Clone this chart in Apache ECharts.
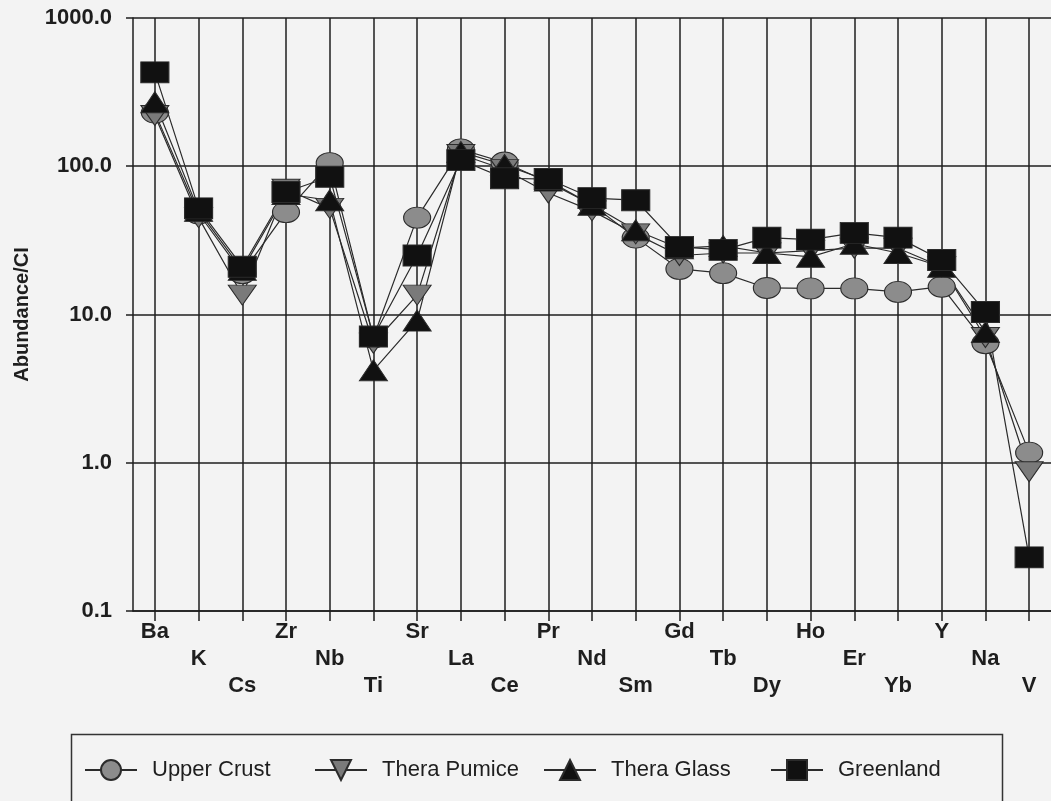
<!DOCTYPE html>
<html>
<head>
<meta charset="utf-8">
<script src="https://cdn.jsdelivr.net/npm/echarts@6/dist/echarts.min.js"></script>
<style>
  html, body { margin: 0; padding: 0; background: #f3f3f3; }
  #chart { width: 1051px; height: 801px; }
</style>
</head>
<body>
<div id="chart"></div>
<script>
// element order on the x axis
const elements = ['Ba', 'K', 'Cs', 'Zr', 'Nb', 'Ti', 'Sr', 'La', 'Ce', 'Pr', 'Nd', 'Sm', 'Gd', 'Tb', 'Dy', 'Ho', 'Er', 'Yb', 'Y', 'Na', 'V']
// abundance / CI
const upperCrust = [230, 48, 19, 49, 105, 7, 45, 130, 106, 78, 55, 33, 20.3, 19, 15.1, 15, 15, 14.2, 15.4, 6.4, 1.17]
const theraPumice = [220, 45, 13.5, 70, 52, 6.4, 13.5, 120, 95, 66, 50, 35, 25, 26, 26, 27, 28, 28, 21, 7, 0.87]
const theraGlass = [270, 50, 20, 65, 59, 4.2, 9.1, 125, 102, 80, 55, 37, 28, 29, 26, 24.5, 30, 26, 21, 7.6, null]
const greenland = [430, 52, 21, 67, 85, 7.1, 25, 110, 83, 82, 61, 59, 28.6, 27.3, 33, 32, 35.5, 33, 23.3, 10.4, 0.23]

const font = '"Liberation Sans", Arial, sans-serif'
const ink = '#1e1e1e'

const chart = echarts.init(document.getElementById('chart'))

function lineSeries (name, data, symbol, size, color, rotate) {
  return {
    name: name,
    type: 'line',
    data: data,
    symbol: symbol,
    symbolSize: size,
    symbolRotate: rotate || 0,
    showAllSymbol: true,
    connectNulls: false,
    lineStyle: { color: '#2b2b2b', width: 1.2 },
    itemStyle: { color: color, borderColor: '#2b2b2b', borderWidth: 1 }
  }
}

// one legend per entry, the gaps in the original are uneven
function legendAt (name, left) {
  return {
    data: [name],
    left: left,
    top: 759,
    padding: 0,
    itemWidth: 52,
    itemHeight: 25,
    textStyle: { fontFamily: font, fontSize: 22, color: ink, padding: [0, 0, 0, 10] }
  }
}

const option = {
  backgroundColor: '#f3f3f3',
  animation: false,
  graphic: [{
    type: 'rect',
    left: 69,
    top: 732,
    shape: { width: 931, height: 100 },
    style: { fill: 'none', stroke: '#333', lineWidth: 1.5 }
  }],
  legend: [
    legendAt('Upper Crust', 84),
    legendAt('Thera Pumice', 314),
    legendAt('Thera Glass', 543),
    legendAt('Greenland', 770)
  ],
  grid: {
    left: 133,
    top: 18,
    width: 920,
    height: 593
  },
  xAxis: {
    type: 'category',
    data: elements,
    boundaryGap: true,
    axisLine: { show: true, lineStyle: { color: ink, width: 1.5 } },
    axisTick: { show: true, alignWithLabel: true, length: 10, lineStyle: { color: ink, width: 1.5 } },
    splitLine: { show: true, alignWithLabel: true, lineStyle: { color: ink, width: 1.5 } },
    axisLabel: {
      interval: 0,
      margin: 7,
      fontFamily: font,
      fontSize: 22,
      fontWeight: 'bold',
      color: ink,
      lineHeight: 27,
      formatter: (v, i) => '\n'.repeat(i % 3) + v // three staggered rows
    }
  },
  yAxis: {
    type: 'log',
    logBase: 10,
    min: 0.1,
    max: 1000,
    name: 'Abundance/CI',
    nameLocation: 'middle',
    nameGap: 101,
    nameTextStyle: { fontFamily: font, fontSize: 20, fontWeight: 'bold', color: ink },
    axisLine: { show: true, lineStyle: { color: ink, width: 1.5 } },
    axisTick: { show: true, length: 7, lineStyle: { color: ink, width: 1.5 } },
    minorTick: { show: false },
    splitLine: { show: true, lineStyle: { color: ink, width: 1.5 } },
    axisLabel: {
      margin: 21,
      fontFamily: font,
      fontSize: 22,
      fontWeight: 'bold',
      color: ink,
      formatter: v => Number(v).toFixed(1)
    }
  },
  series: [
    lineSeries('Upper Crust', upperCrust, 'circle', [27, 21], '#8c8c8c'),
    lineSeries('Thera Pumice', theraPumice, 'triangle', [28, 20], '#7a7a7a', 180),
    lineSeries('Thera Glass', theraGlass, 'triangle', [28, 21], '#111111'),
    lineSeries('Greenland', greenland, 'rect', [28, 21], '#111111')
  ]
}

chart.setOption(option)
</script>
</body>
</html>
